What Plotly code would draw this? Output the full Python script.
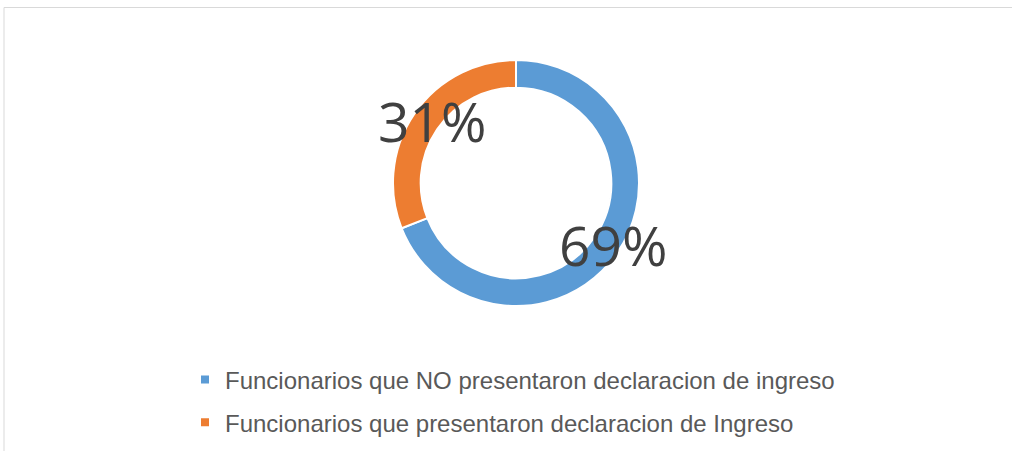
import math
import plotly.graph_objects as go

categories = ["Funcionarios que NO presentaron declaracion de ingreso",
              "Funcionarios que presentaron declaracion de Ingreso"]
values = [69, 31]
colors = ["#5B9BD5", "#ED7D31"]

W, H = 1012, 451
cx, cy, R = 516, 183, 123
label_r = [0.955, 0.83]

fig = go.Figure()
fig.add_trace(go.Pie(
    labels=categories, values=values, hole=0.775, sort=False,
    direction="clockwise", rotation=0,
    marker=dict(colors=colors, line=dict(color="white", width=2)),
    textinfo="none", hoverinfo="label+percent", showlegend=False,
    domain=dict(x=[(cx - R) / W, (cx + R) / W], y=[1 - (cy + R) / H, 1 - (cy - R) / H]),
))

for i, (cat, col) in enumerate(zip(categories, colors)):
    fig.add_trace(go.Scatter(
        x=[None], y=[None], mode="markers", name=cat, legendgroup=f"g{i}",
        marker=dict(symbol="square", size=8, color=col),
    ))

total = sum(values)
cum = 0
annotations = []
for i, v in enumerate(values):
    mid = (cum + v / 2) / total * 2 * math.pi
    cum += v
    px = cx + label_r[i] * R * math.sin(mid)
    py = cy - label_r[i] * R * math.cos(mid)
    annotations.append(dict(
        x=px / W, y=1 - py / H, xref="paper", yref="paper",
        text=f"{round(v / total * 100)}%", showarrow=False,
        font=dict(family="Open Sans", size=55, color="#404040"),
        xanchor="center", yanchor="middle", yshift=5,
    ))

fig.update_layout(
    width=W, height=H,
    margin=dict(l=0, r=0, t=0, b=0),
    paper_bgcolor="white", plot_bgcolor="white",
    xaxis=dict(visible=False), yaxis=dict(visible=False),
    annotations=annotations,
    legend=dict(
        x=185 / W, y=1 - 357.5 / H, xanchor="left", yanchor="top",
        font=dict(family="Liberation Sans", size=24, color="#595959"),
        tracegroupgap=8.5, bgcolor="rgba(0,0,0,0)",
    ),
    shapes=[dict(type="rect", xref="paper", yref="paper",
                 x0=4 / W, x1=1.05, y0=-0.05, y1=1 - 7.5 / H,
                 line=dict(color="#D9D9D9", width=1), fillcolor="rgba(0,0,0,0)")],
)

fig.write_html("out.html", config={"displayModeBar": False},
               post_script="document.body.style.margin='0';document.body.style.overflow='hidden';")
